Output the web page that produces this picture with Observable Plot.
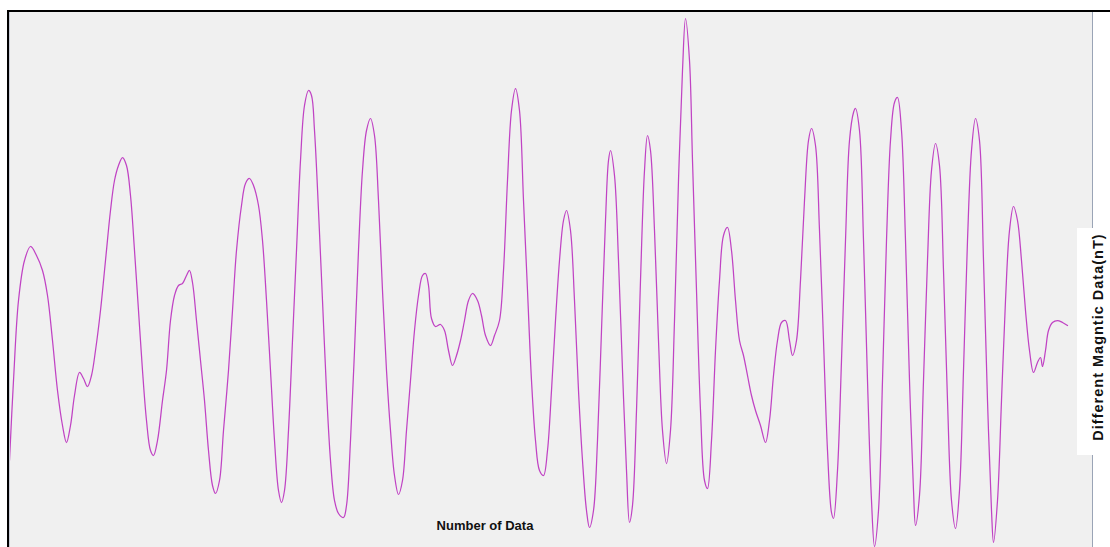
<!DOCTYPE html>
<html>
<head>
<meta charset="utf-8">
<script src="https://cdn.jsdelivr.net/npm/d3@7"></script>
<script src="https://cdn.jsdelivr.net/npm/@observablehq/plot@0.6"></script>
<style>
  html, body { margin: 0; padding: 0; background: #ffffff; }
  #wrap { position: relative; width: 1110px; height: 547px; overflow: hidden; background: #ffffff; font-family: "Liberation Sans", Arial, sans-serif; }
  #wrap svg { position: absolute; left: 0; top: 0; }
  #topBorder { position: absolute; left: 7px; top: 10px; width: 1103px; height: 2px; background: #000; }
  #leftBorder { position: absolute; left: 7px; top: 10px; width: 2px; height: 537px; background: #000; }
  #leftInner { position: absolute; left: 9px; top: 12px; width: 1px; height: 535px; background: #c8ccd6; }
  #rightLine { position: absolute; left: 1092px; top: 12px; width: 1px; height: 535px; background: #9aa4b6; }
  #xLabel { position: absolute; left: 485px; top: 518px; transform: translateX(-50%); font-size: 13px; font-weight: bold; color: #111; white-space: nowrap; }
  #yBox { position: absolute; left: 1077px; top: 228px; width: 33px; height: 227px; background: #fff; }
  #yLabel { position: absolute; left: 1098px; top: 337px; transform: translate(-50%, -50%) rotate(-90deg); font-size: 14.5px; letter-spacing: 1px; font-weight: bold; color: #111; white-space: nowrap; }
</style>
</head>
<body>
<div id="wrap"></div>
<script>
const sampleIndex = [0,4,9,15,21,27,33,38,43,48,53,57,61,65,70,74,78,82,86,91,96,101,105,109,113,117,121,125,129,133,137,141,144,148,153,157,161,165,169,173,177,180,183,187,191,195,199,203,206,210,214,219,223,227,232,236,240,244,249,253,257,261,265,269,272,275,279,283,287,291,295,299,302,305,309,313,317,321,325,329,334,337,341,345,349,353,357,361,365,369,373,377,381,385,389,393,397,401,405,409,413,416,419,422,426,431,435,439,443,447,451,455,459,463,468,472,476,481,485,490,494,498,502,506,510,514,518,522,526,530,534,538,542,546,550,554,557,561,565,569,573,577,580,584,588,592,596,599,601,605,609,613,617,620,623,627,631,635,638,641,645,649,653,657,661,665,669,673,676,680,683,687,691,695,698,702,706,710,714,718,722,726,730,734,738,742,746,751,756,760,764,768,772,776,780,783,787,791,795,799,802,806,810,814,818,822,824,828,832,836,840,844,846,850,854,858,862,865,869,873,877,881,885,888,892,896,900,904,906,910,914,918,922,926,930,934,938,942,946,950,954,958,962,966,970,974,978,982,984,988,992,996,1000,1004,1008,1012,1016,1020,1024,1028,1031,1033,1036,1039,1043,1048,1053,1058];
const magneticValue = [87,167,247,287,301,292,277,252,207,157,122,105,122,152,175,169,161,172,197,237,287,337,367,382,390,382,352,297,237,177,127,97,92,107,147,177,227,252,262,264,272,277,265,227,187,147,97,62,54,67,117,177,237,297,342,364,369,362,342,307,247,177,107,57,45,57,117,207,297,387,442,457,452,417,337,247,157,87,47,34,30,42,107,197,297,377,417,429,412,347,257,177,117,72,53,67,117,167,217,252,272,274,262,229,221,223,217,197,182,192,207,227,247,254,247,232,212,202,212,227,277,367,437,459,437,347,257,167,107,77,72,97,157,227,287,327,337,317,247,157,87,37,20,37,107,217,327,387,397,372,287,177,77,25,42,137,267,377,412,397,317,207,117,84,117,227,367,477,529,487,387,257,137,67,59,107,197,267,312,320,297,247,207,192,172,152,137,122,105,127,172,207,225,227,207,192,207,267,347,407,419,402,317,207,97,35,29,77,187,307,407,435,439,417,307,167,47,1,37,167,307,407,445,450,417,307,167,57,22,52,167,287,377,404,382,277,147,47,19,57,177,307,397,429,407,287,147,37,5,47,147,247,317,341,327,287,237,197,175,185,190,181,197,217,225,227,225,222];
const xLabelText = "Number of Data";
const yLabelText = "Different Magntic Data(nT)";

const data = sampleIndex.map((i, k) => ({i, v: magneticValue[k]}));

const chart = Plot.plot({
  width: 1110,
  height: 547,
  marginLeft: 9,
  marginRight: 18,
  marginTop: 11,
  marginBottom: 0,
  style: {background: "transparent", overflow: "visible"},
  x: {domain: [0, 1083], axis: null},
  y: {domain: [0, 536], axis: null},
  marks: [
    Plot.frame({fill: "#f0f0f0", stroke: null}),
    Plot.line(data, {x: "i", y: "v", stroke: "#c043c4", strokeWidth: 1.25, curve: "catmull-rom"})
  ]
});

const wrap = document.getElementById("wrap");
wrap.appendChild(chart);
function add(id, text) {
  const d = document.createElement("div");
  d.id = id;
  if (text) d.textContent = text;
  wrap.appendChild(d);
}
add("leftInner");
add("rightLine");
add("topBorder");
add("leftBorder");
add("xLabel", xLabelText);
add("yBox");
add("yLabel", yLabelText);
</script>
</body>
</html>
